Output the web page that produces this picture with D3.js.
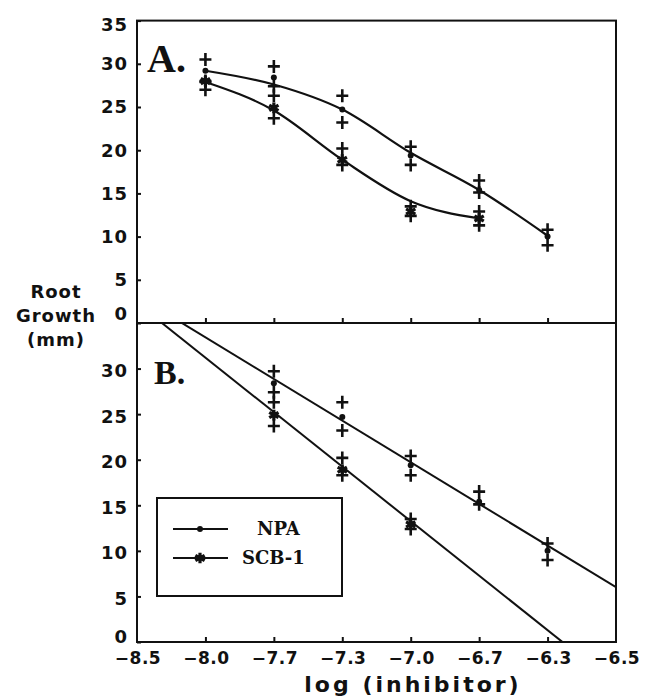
<!DOCTYPE html>
<html>
<head>
<meta charset="utf-8">
<script src="https://cdn.jsdelivr.net/npm/d3@7"></script>
<style>
	body { margin: 0; background: #fff; }
	text { fill: #111; }
</style>
</head>
<body>
<div id="plot"></div>
<script>

// x axis is drawn as evenly spaced categories, as in the original figure
const xLabels = [ "\u22128.5", "\u22128.0", "\u22127.7", "\u22127.3", "\u22127.0", "\u22126.7", "\u22126.3", "\u22126.5" ];

// concentrations for each series
const npaConc = [ "\u22128.0", "\u22127.7", "\u22127.3", "\u22127.0", "\u22126.7", "\u22126.3" ];
const scbConc = [ "\u22128.0", "\u22127.7", "\u22127.3", "\u22127.0", "\u22126.7" ];

// means (root growth, mm)
const npaMean = [ 29.2, 28.4, 24.7, 19.4, 15.4, 10.0 ];
const scbMean = [ 28.0, 24.9, 18.9, 12.9, 12.1 ];

// single measurements (+)
const npaReps = [ [ 30.5, 28.0 ], [ 29.7, 27.4 ], [ 26.3, 23.2 ], [ 20.4, 18.3 ], [ 16.5, 15.1 ], [ 10.8, 9.0 ] ];
const scbReps = [ [ 27.9, 27.0 ], [ 26.3, 23.7 ], [ 20.2, 18.3 ], [ 13.5, 12.4 ], [ 12.9, 11.3 ] ];

// panel A: smooth fitted curve, values at each concentration
const npaCurve = [ 29.2, 27.6, 24.7, 19.7, 15.4, 10.1 ];
const scbCurve = [ 27.9, 24.6, 18.9, 14.1, 12.1 ];

// panel B: linear fits (growth = a + b * axis position)
const npaFit = { a: 38.0, b: -4.57 };
const scbFit = { a: 37.18, b: -5.98 };

// panel B only shows these concentrations
const npaConcB = [ "\u22127.7", "\u22127.3", "\u22127.0", "\u22126.7", "\u22126.3" ];
const scbConcB = [ "\u22127.7", "\u22127.3", "\u22127.0" ];

const yTicksA = [ 0, 5, 10, 15, 20, 25, 30, 35 ];
const yTicksB = [ 0, 5, 10, 15, 20, 25, 30 ];

const legendNames = [ "NPA", "SCB-1" ];

///////////////////////////////////////////////////////////////////////

const W = 647, H = 698;
const left = 137, right = 616;
const topA = 20.6, midY = 323, botB = 642;

let svg = d3.select( "#plot" )
	.append( "svg" )
		.attr( "width", W )
		.attr( "height", H );

let x = d3.scaleLinear()
	.domain( [ 0, xLabels.length - 1 ] )
	.range( [ left, right ] );

let yA = d3.scaleLinear().domain( [ 0, 35 ] ).range( [ midY, topA ] );
let yB = d3.scaleLinear().domain( [ 0, 35 ] ).range( [ botB, midY ] );

function xi( label )	{
	return( x( xLabels.indexOf( label ) ) );
}

svg.append( "clipPath" )
	.attr( "id", "clipB" )
	.append( "rect" )
		.attr( "x", left )
		.attr( "y", midY )
		.attr( "width", right - left )
		.attr( "height", botB - midY );

const labelFont = "'DejaVu Sans', sans-serif";

function draw_y_axis( y, ticks, fixLabels )	{

	let g = svg.append( "g" )
		.attr( "transform", "translate(" + left + ",0)" )
		.call( d3.axisRight( y ).tickValues( ticks ).tickSize( 4 ).tickFormat( "" ) );
	g.select( ".domain" ).remove();
	g.selectAll( "line" ).attr( "stroke", "#111" ).attr( "stroke-width", 2 );

	svg.append( "g" )
		.selectAll( "text" )
		.data( ticks )
		.join( "text" )
			.attr( "x", left - 9 )
			.attr( "y", d => y( d ) + fixLabels( d ) )
			.attr( "dy", "0.36em" )
			.attr( "text-anchor", "end" )
			.attr( "font-family", labelFont )
			.attr( "font-weight", "bold" )
			.attr( "font-size", 18 )
			.attr( "letter-spacing", 1 )
			.text( d => d );
}

function draw_x_ticks( yPos )	{

	let g = svg.append( "g" )
		.attr( "transform", "translate(0," + yPos + ")" )
		.call( d3.axisTop( x ).tickValues( d3.range( 1, 7 ) ).tickSize( 5 ).tickFormat( "" ) );
	g.select( ".domain" ).remove();
	g.selectAll( "line" ).attr( "stroke", "#111" ).attr( "stroke-width", 2 );
}

draw_y_axis( yA, yTicksA, d => d === 0 ? -9 : ( d === 35 ? 4 : 0 ) );
draw_y_axis( yB, yTicksB, d => d === 0 ? -5 : 2 );
draw_x_ticks( midY );
draw_x_ticks( botB );

// x tick labels
svg.append( "g" )
	.selectAll( "text" )
	.data( xLabels )
	.join( "text" )
		.attr( "x", ( d, i ) => x( i ) + 1 )
		.attr( "y", botB + 22 )
		.attr( "text-anchor", "middle" )
		.attr( "font-family", labelFont )
		.attr( "font-weight", "bold" )
		.attr( "font-size", 17 )
		.attr( "letter-spacing", 0.5 )
		.text( d => d );

// panel frames
svg.append( "rect" )
	.attr( "x", left ).attr( "y", topA )
	.attr( "width", right - left ).attr( "height", midY - topA )
	.attr( "fill", "none" ).attr( "stroke", "#111" ).attr( "stroke-width", 2 );
svg.append( "rect" )
	.attr( "x", left ).attr( "y", midY )
	.attr( "width", right - left ).attr( "height", botB - midY )
	.attr( "fill", "none" ).attr( "stroke", "#111" ).attr( "stroke-width", 2 );

// panel A curves
function curve_line( y )	{
	return( d3.line()
		.x( d => xi( d[ 0 ] ) )
		.y( d => y( d[ 1 ] ) )
		.curve( d3.curveMonotoneX ) );
}

svg.append( "path" )
	.attr( "d", curve_line( yA )( d3.zip( npaConc, npaCurve ) ) )
	.attr( "fill", "none" ).attr( "stroke", "#111" ).attr( "stroke-width", 2.2 );
svg.append( "path" )
	.attr( "d", curve_line( yA )( d3.zip( scbConc, scbCurve ) ) )
	.attr( "fill", "none" ).attr( "stroke", "#111" ).attr( "stroke-width", 2.2 );

// panel B regression lines
[ npaFit, scbFit ].forEach( f => {
	let xs = [ 0, xLabels.length - 1 ];
	svg.append( "line" )
		.attr( "clip-path", "url(#clipB)" )
		.attr( "x1", x( xs[ 0 ] ) ).attr( "y1", yB( f.a + f.b * xs[ 0 ] ) )
		.attr( "x2", x( xs[ 1 ] ) ).attr( "y2", yB( f.a + f.b * xs[ 1 ] ) )
		.attr( "stroke", "#111" ).attr( "stroke-width", 2 );
} );

// markers
const plusPath = "M-6,0H6M0,-6.5V6.5";
const starPath = d3.symbol( d3.symbolAsterisk, 80 )();

function draw_reps( conc, reps, y, keep )	{

	let pts = [];
	conc.forEach( ( c, i ) => {
		if( keep.indexOf( c ) < 0 ) return;
		reps[ i ].forEach( v => pts.push( [ c, v ] ) );
	} );
	svg.append( "g" )
		.selectAll( "path" )
		.data( pts )
		.join( "path" )
			.attr( "transform", d => "translate(" + xi( d[ 0 ] ) + "," + y( d[ 1 ] ) + ")" )
			.attr( "d", plusPath )
			.attr( "stroke", "#111" )
			.attr( "stroke-width", 2.6 );
}

function draw_npa_means( conc, means, y, keep )	{
	svg.append( "g" )
		.selectAll( "circle" )
		.data( d3.zip( conc, means ).filter( d => keep.indexOf( d[ 0 ] ) >= 0 ) )
		.join( "circle" )
			.attr( "cx", d => xi( d[ 0 ] ) )
			.attr( "cy", d => y( d[ 1 ] ) )
			.attr( "r", 3 )
			.attr( "fill", "#111" );
}

function draw_scb_means( conc, means, y, keep )	{
	svg.append( "g" )
		.selectAll( "path" )
		.data( d3.zip( conc, means ).filter( d => keep.indexOf( d[ 0 ] ) >= 0 ) )
		.join( "path" )
			.attr( "transform", d => "translate(" + xi( d[ 0 ] ) + "," + y( d[ 1 ] ) + ")" )
			.attr( "d", starPath )
			.attr( "fill", "none" )
			.attr( "stroke", "#111" )
			.attr( "stroke-width", 3.2 );
}

draw_reps( npaConc, npaReps, yA, npaConc );
draw_reps( scbConc, scbReps, yA, scbConc );
draw_npa_means( npaConc, npaMean, yA, npaConc );
draw_scb_means( scbConc, scbMean, yA, scbConc );

draw_reps( npaConc, npaReps, yB, npaConcB );
draw_reps( scbConc, scbReps, yB, scbConcB );
draw_npa_means( npaConc, npaMean, yB, npaConcB );
draw_scb_means( scbConc, scbMean, yB, scbConcB );

// panel letters
svg.append( "text" )
	.attr( "x", 147 ).attr( "y", 72 )
	.attr( "font-family", "'Liberation Serif', serif" )
	.attr( "font-weight", "bold" )
	.attr( "font-size", 40 )
	.text( "A." );
svg.append( "text" )
	.attr( "x", 154 ).attr( "y", 384 )
	.attr( "font-family", "'Liberation Serif', serif" )
	.attr( "font-weight", "bold" )
	.attr( "font-size", 34 )
	.text( "B." );

// legend
let lg = svg.append( "g" );
lg.append( "rect" )
	.attr( "x", 157 ).attr( "y", 498 )
	.attr( "width", 185 ).attr( "height", 98 )
	.attr( "fill", "#fff" ).attr( "stroke", "#111" ).attr( "stroke-width", 2 );
legendNames.forEach( ( name, i ) => {
	let ly = 529 + i * 29;
	lg.append( "line" )
		.attr( "x1", 173 ).attr( "x2", 228 )
		.attr( "y1", ly ).attr( "y2", ly )
		.attr( "stroke", "#111" ).attr( "stroke-width", 2 );
	if( i === 0 )
		lg.append( "circle" ).attr( "cx", 200 ).attr( "cy", ly ).attr( "r", 3 ).attr( "fill", "#111" );
	else
		lg.append( "path" )
			.attr( "transform", "translate(200," + ly + ")" )
			.attr( "d", starPath )
			.attr( "stroke", "#111" ).attr( "stroke-width", 3.2 );
	lg.append( "text" )
		.attr( "x", i === 0 ? 257 : 242 )
		.attr( "y", ly )
		.attr( "dy", "0.36em" )
		.attr( "font-family", "'DejaVu Serif', serif" )
		.attr( "font-weight", "bold" )
		.attr( "font-size", 18 )
		.text( name );
} );

// axis titles
const yTitle = [ "Root", "Growth", "(mm)" ];
svg.append( "g" )
	.selectAll( "text" )
	.data( yTitle )
	.join( "text" )
		.attr( "x", 56 )
		.attr( "y", ( d, i ) => 298 + i * 24 )
		.attr( "text-anchor", "middle" )
		.attr( "font-family", labelFont )
		.attr( "font-weight", "bold" )
		.attr( "font-size", 18 )
		.attr( "letter-spacing", 1 )
		.text( d => d );

svg.append( "text" )
	.attr( "x", 413 ).attr( "y", 692 )
	.attr( "text-anchor", "middle" )
	.attr( "font-family", labelFont )
	.attr( "font-weight", "bold" )
	.attr( "font-size", 22 )
	.attr( "letter-spacing", 3 )
	.text( "log (inhibitor)" );

</script>
</body>
</html>
